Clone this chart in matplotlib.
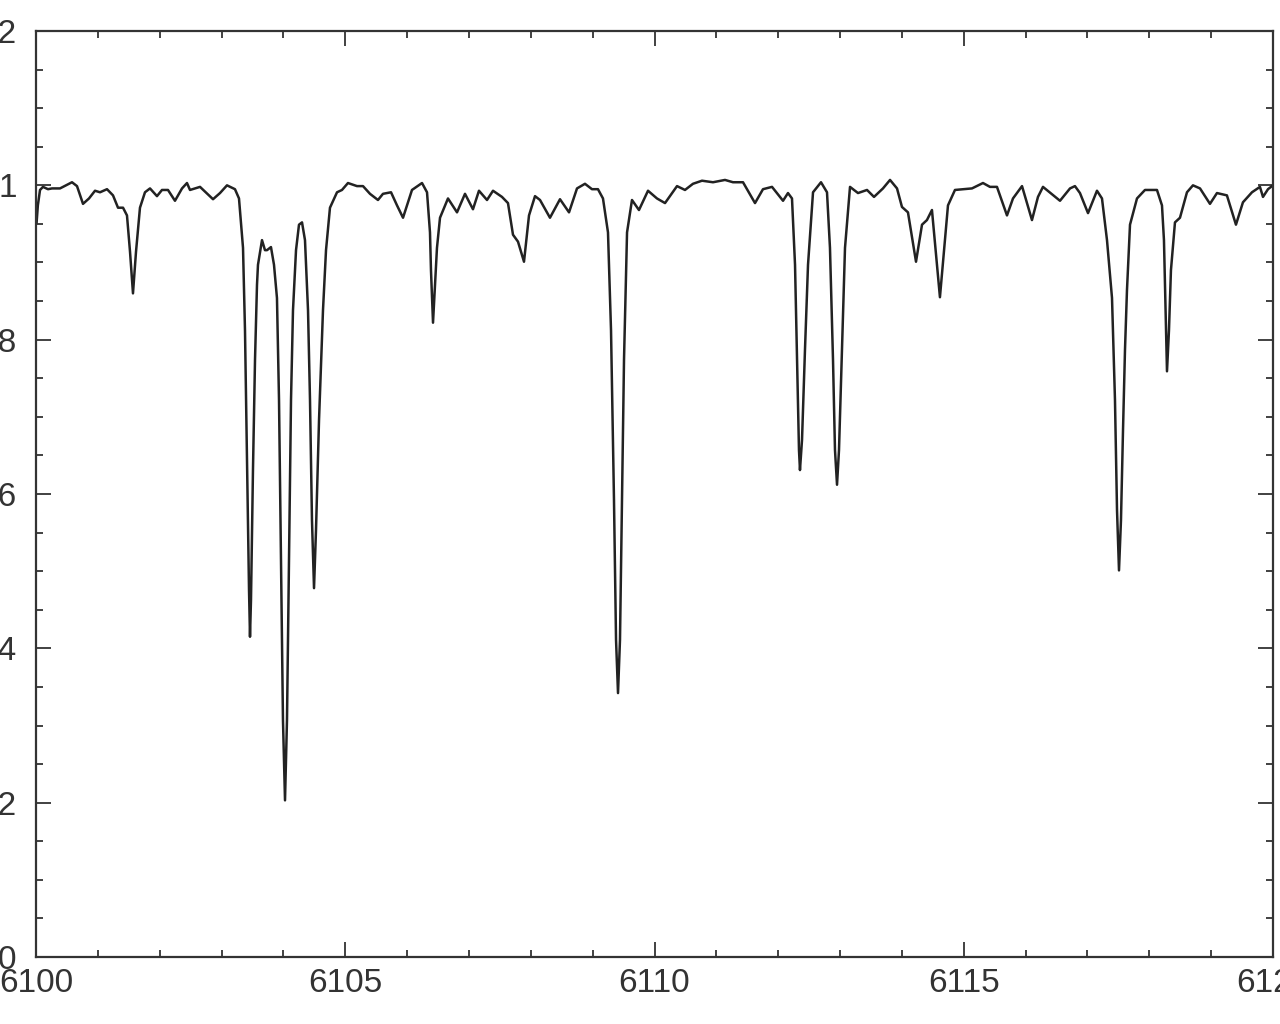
import matplotlib.pyplot as plt
from matplotlib.ticker import MultipleLocator

# spectrum (wavelength in Angstrom, normalised flux)
wave = [
    6100.010, 6100.030, 6100.065, 6100.113, 6100.194, 6100.259, 6100.388, 6100.582,
    6100.663, 6100.760, 6100.857, 6100.954, 6101.035, 6101.148, 6101.245, 6101.326,
    6101.407, 6101.471, 6101.520, 6101.568, 6101.617, 6101.681, 6101.762, 6101.843,
    6101.956, 6102.037, 6102.134, 6102.247, 6102.361, 6102.441, 6102.490, 6102.652,
    6102.862, 6102.975, 6103.088, 6103.217, 6103.282, 6103.347, 6103.379, 6103.411,
    6103.444, 6103.460, 6103.476, 6103.508, 6103.541, 6103.573, 6103.589, 6103.654,
    6103.702, 6103.735, 6103.799, 6103.848, 6103.896, 6103.929, 6103.961, 6103.993,
    6104.026, 6104.058, 6104.090, 6104.123, 6104.155, 6104.204, 6104.252, 6104.301,
    6104.349, 6104.398, 6104.430, 6104.462, 6104.495, 6104.527, 6104.576, 6104.640,
    6104.689, 6104.753, 6104.867, 6104.947, 6105.044, 6105.190, 6105.287, 6105.400,
    6105.529, 6105.610, 6105.740, 6105.837, 6105.934, 6106.079, 6106.241, 6106.322,
    6106.370, 6106.386, 6106.419, 6106.451, 6106.483, 6106.532, 6106.661, 6106.807,
    6106.936, 6107.065, 6107.162, 6107.292, 6107.389, 6107.534, 6107.631, 6107.712,
    6107.793, 6107.890, 6107.971, 6108.068, 6108.149, 6108.310, 6108.472, 6108.618,
    6108.747, 6108.876, 6108.989, 6109.086, 6109.167, 6109.248, 6109.297, 6109.345,
    6109.378, 6109.410, 6109.442, 6109.475, 6109.507, 6109.556, 6109.636, 6109.749,
    6109.895, 6110.040, 6110.170, 6110.364, 6110.493, 6110.622, 6110.768, 6110.946,
    6111.140, 6111.269, 6111.431, 6111.625, 6111.754, 6111.900, 6112.078, 6112.158,
    6112.223, 6112.272, 6112.304, 6112.336, 6112.352, 6112.385, 6112.433, 6112.482,
    6112.563, 6112.692, 6112.789, 6112.837, 6112.886, 6112.918, 6112.951, 6112.983,
    6113.031, 6113.080, 6113.161, 6113.290, 6113.436, 6113.549, 6113.694, 6113.808,
    6113.921, 6114.001, 6114.098, 6114.228, 6114.325, 6114.405, 6114.486, 6114.615,
    6114.745, 6114.858, 6114.988, 6115.133, 6115.311, 6115.424, 6115.537, 6115.699,
    6115.796, 6115.942, 6116.103, 6116.200, 6116.281, 6116.556, 6116.718, 6116.798,
    6116.879, 6117.009, 6117.154, 6117.235, 6117.316, 6117.397, 6117.445, 6117.478,
    6117.510, 6117.542, 6117.575, 6117.607, 6117.639, 6117.688, 6117.801, 6117.930,
    6118.124, 6118.205, 6118.237, 6118.270, 6118.286, 6118.318, 6118.350, 6118.415,
    6118.496, 6118.609, 6118.706, 6118.820, 6118.981, 6119.094, 6119.255, 6119.401,
    6119.514, 6119.660, 6119.789, 6119.838, 6119.919, 6120.000,
]
flux = [
    0.952, 0.974, 0.994, 0.998, 0.995, 0.996, 0.996, 1.004,
    0.999, 0.976, 0.983, 0.993, 0.991, 0.995, 0.987, 0.971,
    0.971, 0.961, 0.914, 0.860, 0.914, 0.971, 0.991, 0.996,
    0.986, 0.994, 0.994, 0.980, 0.996, 1.003, 0.994, 0.998,
    0.982, 0.990, 1.000, 0.995, 0.983, 0.919, 0.812, 0.644,
    0.476, 0.415, 0.463, 0.631, 0.774, 0.871, 0.897, 0.929,
    0.916, 0.916, 0.920, 0.897, 0.854, 0.722, 0.514, 0.307,
    0.203, 0.307, 0.514, 0.722, 0.838, 0.916, 0.949, 0.952,
    0.929, 0.838, 0.722, 0.566, 0.478, 0.553, 0.696, 0.838,
    0.916, 0.971, 0.991, 0.994, 1.003, 0.999, 0.999, 0.989,
    0.981, 0.989, 0.991, 0.974, 0.958, 0.994, 1.003, 0.991,
    0.939, 0.890, 0.822, 0.871, 0.919, 0.958, 0.983, 0.965,
    0.989, 0.969, 0.993, 0.981, 0.993, 0.985, 0.977, 0.936,
    0.927, 0.901, 0.961, 0.986, 0.981, 0.958, 0.982, 0.965,
    0.996, 1.002, 0.995, 0.995, 0.983, 0.939, 0.812, 0.592,
    0.411, 0.342, 0.411, 0.592, 0.774, 0.939, 0.981, 0.968,
    0.993, 0.983, 0.977, 0.999, 0.994, 1.002, 1.006, 1.004,
    1.007, 1.004, 1.004, 0.977, 0.995, 0.998, 0.980, 0.990,
    0.983, 0.897, 0.774, 0.657, 0.631, 0.670, 0.787, 0.897,
    0.991, 1.004, 0.991, 0.919, 0.774, 0.657, 0.612, 0.657,
    0.787, 0.919, 0.998, 0.990, 0.994, 0.985, 0.996, 1.007,
    0.996, 0.972, 0.965, 0.901, 0.949, 0.955, 0.968, 0.855,
    0.974, 0.994, 0.995, 0.996, 1.003, 0.998, 0.998, 0.961,
    0.983, 0.999, 0.955, 0.985, 0.998, 0.980, 0.996, 0.999,
    0.990, 0.964, 0.993, 0.983, 0.929, 0.854, 0.722, 0.579,
    0.501, 0.566, 0.683, 0.787, 0.864, 0.949, 0.983, 0.994,
    0.994, 0.974, 0.929, 0.812, 0.759, 0.812, 0.890, 0.952,
    0.958, 0.991, 1.000, 0.996, 0.976, 0.990, 0.987, 0.949,
    0.978, 0.991, 0.998, 0.985, 0.995, 1.000,
]

x_range = (6100, 6120)
y_range = (0, 1.2)
y_ticks = [0, 0.2, 0.4, 0.6, 0.8, 1.0, 1.2]
y_labels = ['0', '0.2', '0.4', '0.6', '0.8', '1', '1.2']

ink = '#333333'
plt.rcParams['font.family'] = ['Liberation Sans', 'DejaVu Sans']

fig = plt.figure(figsize=(12.8, 10.24), dpi=100)
ax = fig.add_axes([36 / 1280, 67 / 1024, 1237 / 1280, 926 / 1024])

ax.plot(wave, flux, color='#222222', linewidth=1.8, solid_joinstyle='round')

ax.set_xlim(*x_range)
ax.set_ylim(*y_range)
ax.xaxis.set_major_locator(MultipleLocator(5))
ax.xaxis.set_minor_locator(MultipleLocator(1))
ax.set_yticks(y_ticks)
ax.set_yticklabels(y_labels)
ax.yaxis.set_minor_locator(MultipleLocator(0.05))

for side in ax.spines.values():
    side.set_linewidth(1.6)
    side.set_color(ink)

ax.tick_params(which='both', direction='in', top=True, right=True,
               color=ink, width=1.3, labelcolor=ink, labelsize=24)
ax.tick_params(which='major', length=11)
ax.tick_params(which='minor', length=5)
ax.tick_params(axis='x', which='major', pad=8)
ax.tick_params(axis='y', which='major', pad=14)

fig.savefig('out.png', dpi=100)
plt.close(fig)
